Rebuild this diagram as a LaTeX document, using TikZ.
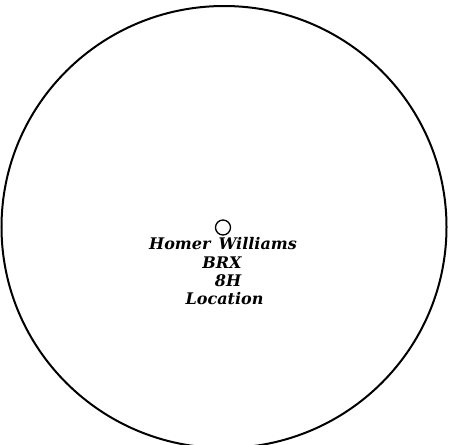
\documentclass[tikz,border=0pt]{standalone}
\usepackage{fontspec}
\newfontfamily\labfont{DejaVu Serif}
\begin{document}
\begin{tikzpicture}[x=1pt,y=-1pt,
  lab/.style={font=\labfont\bfseries\itshape\fontsize{16}{18}\selectfont, inner sep=0pt, anchor=base}]
\useasboundingbox (0,0) rectangle (449,444);
\draw[line width=2pt] (224,227) ellipse [x radius=222.5, y radius=221];
\node[draw, circle, line width=1.3pt, minimum size=15pt, inner sep=0pt] (dot) at (223,227.5) {};
\node[lab] (name) at (223,249) {Homer\hspace{8pt}Williams};
\node[lab] (brx) at (222,268) {BRX};
\node[lab] (eh) at (228,286) {8H};
\node[lab] (loc) at (224.5,304) {Location};
\end{tikzpicture}
\end{document}
